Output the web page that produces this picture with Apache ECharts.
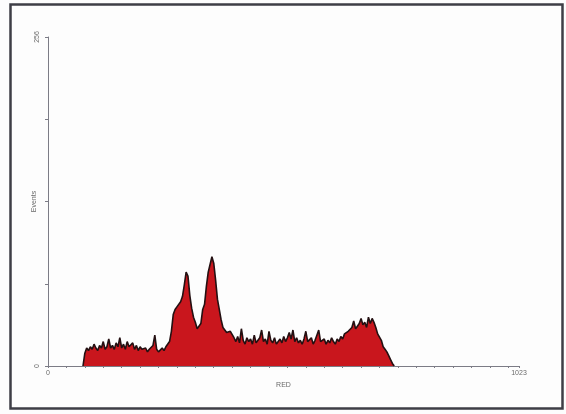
<!DOCTYPE html>
<html>
<head>
<meta charset="utf-8">
<script src="https://cdn.jsdelivr.net/npm/echarts@6/dist/echarts.min.js"></script>
<style>
  html, body { margin: 0; padding: 0; background: #fdfdfd; }
  #chart { width: 566px; height: 414px; }
</style>
</head>
<body>
<div id="chart"></div>
<script>
// Histogram of the RED channel: event counts per 4-channel bin.
const binStart = 76;
const binWidth = 4;
const counts = [
  0, 10, 14, 12, 15, 13, 17, 14, 12, 16,
  14, 19, 13, 15, 21, 14, 16, 13, 18, 15,
  22, 14, 17, 13, 19, 15, 14, 18, 13, 16,
  12, 15, 13, 12, 14, 11, 13, 12, 16, 24,
  13, 11, 12, 14, 12, 15, 16, 19, 27, 40,
  44, 46, 47, 50, 54, 63, 73, 70, 55, 45,
  38, 34, 29, 28, 33, 44, 48, 62, 73, 79,
  85, 80, 67, 52, 44, 36, 30, 28, 26, 25,
  27, 28, 22, 19, 23, 18, 29, 20, 17, 22,
  19, 21, 17, 24, 18, 20, 22, 28, 19, 21,
  17, 27, 20, 18, 22, 17, 19, 21, 18, 23,
  19, 22, 26, 21, 28, 19, 22, 18, 20, 17,
  21, 27, 19, 18, 22, 17, 20, 24, 28, 19,
  18, 21, 17, 20, 18, 22, 19, 17, 21, 19,
  23, 21, 25, 24, 27, 26, 30, 35, 29, 31,
  33, 37, 32, 34, 30, 38, 33, 37, 34, 30,
  25, 24, 20, 15, 13, 11, 8, 5, 2, 0
];
const xRange = [0, 1023];
const yRange = [0, 256];
const xTickStep = 40;
const yTickStep = 64;
const xName = 'RED';
const yName = 'Events';

const seriesData = counts.map((c, i) => [binStart + i * binWidth, c]);

const chart = echarts.init(document.getElementById('chart'), null, { renderer: 'canvas' });

const labelStyle = { color: '#6a6a6a', fontSize: 7, fontFamily: 'Liberation Sans, Arial, sans-serif' };
const axisGray = '#7c7c86';

chart.setOption({
  animation: false,
  backgroundColor: '#fdfdfd',
  grid: { left: 48, right: 47, top: 37, bottom: 48, containLabel: false },
  graphic: [{
    type: 'rect',
    shape: { x: 10.5, y: 4.5, width: 552, height: 404 },
    style: { fill: 'none', stroke: '#3e3e46', lineWidth: 2.5 },
    z: 10
  }],
  xAxis: {
    type: 'value',
    min: xRange[0],
    max: xRange[1],
    interval: xTickStep,
    name: xName,
    nameLocation: 'middle',
    nameGap: 16,
    nameMoveOverlap: false,
    nameTextStyle: labelStyle,
    axisLine: { show: true, lineStyle: { color: axisGray, width: 1 } },
    axisTick: { show: true, length: 2, lineStyle: { color: axisGray } },
    axisLabel: {
      ...labelStyle,
      margin: 4,
      showMaxLabel: true,
      showMinLabel: true,
      formatter: v => (v === xRange[0] || v === xRange[1]) ? String(v) : ''
    },
    splitLine: { show: false }
  },
  yAxis: {
    type: 'value',
    min: yRange[0],
    max: yRange[1],
    interval: yTickStep,
    name: yName,
    nameLocation: 'middle',
    nameGap: 10,
    nameRotate: 90,
    nameMoveOverlap: false,
    nameTextStyle: labelStyle,
    axisLine: { show: true, lineStyle: { color: axisGray, width: 1 } },
    axisTick: { show: true, length: 3, lineStyle: { color: axisGray } },
    axisLabel: {
      ...labelStyle,
      rotate: 90,
      margin: 7,
      showMaxLabel: true,
      showMinLabel: true,
      formatter: v => (v === yRange[0] || v === yRange[1]) ? String(v) : ''
    },
    splitLine: { show: false }
  },
  series: [{
    type: 'line',
    data: seriesData,
    symbol: 'none',
    smooth: false,
    lineStyle: { color: '#241012', width: 1.6 },
    areaStyle: { color: '#c9161d', opacity: 1 },
    z: 2
  }]
});
</script>
</body>
</html>
